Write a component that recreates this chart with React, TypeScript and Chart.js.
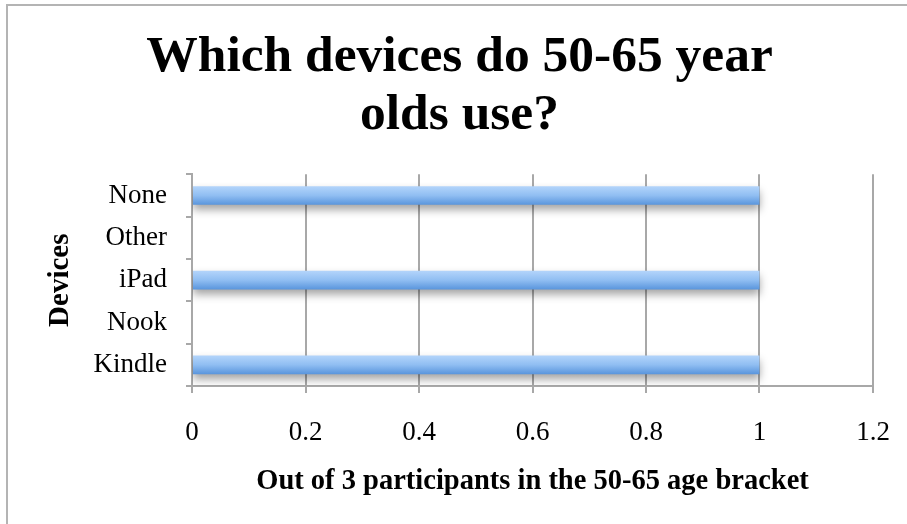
import React, { useEffect, useRef } from 'react';
import { Chart, registerables } from 'chart.js';

Chart.register(...registerables);

const categories = ['Kindle', 'Nook', 'iPad', 'Other', 'None'];
const values = [1, 0, 1, 0, 1];
const xTickLabels = ['0', '0.2', '0.4', '0.6', '0.8', '1', '1.2'];
const titleLines = ['Which devices do 50-65 year', 'olds use?'];
const xTitle = 'Out of 3 participants in the 50-65 age bracket';
const yTitle = 'Devices';

const FONT = "'Liberation Serif', 'Times New Roman', serif";
const GRID = '#a8a8a8';

export default function App() {
  const ref = useRef<HTMLCanvasElement | null>(null);

  useEffect(() => {
    if (!ref.current) return;
    const frame = {
      id: 'frame',
      beforeDraw(chart: any) {
        const ctx = chart.ctx;
        ctx.save();
        ctx.fillStyle = '#ffffff';
        ctx.fillRect(0, 0, chart.width, chart.height);
        ctx.strokeStyle = '#b4b4b4';
        ctx.lineWidth = 2;
        ctx.strokeRect(7, 5, chart.width + 20, chart.height + 20);
        ctx.restore();
      },
    };
    const shadow = {
      id: 'barShadow',
      beforeDatasetsDraw(chart: any) {
        const ctx = chart.ctx;
        ctx.save();
        ctx.shadowColor = 'rgba(0,0,0,0.36)';
        ctx.shadowBlur = 9;
        ctx.shadowOffsetY = 5;
      },
      afterDatasetsDraw(chart: any) {
        chart.ctx.restore();
      },
    };
    const chart = new Chart(ref.current, {
      type: 'bar',
      data: {
        labels: categories,
        datasets: [
          {
            data: values,
            backgroundColor: (c: any) => {
              const ch = c.chart;
              const ys = ch.scales && ch.scales.y;
              if (!ys || c.dataIndex === undefined) return '#86b6ee';
              const y = ys.getPixelForValue(c.dataIndex);
              if (!Number.isFinite(y)) return '#86b6ee';
              const h = 9.5;
              const g = ch.ctx.createLinearGradient(0, y - h, 0, y + h);
              g.addColorStop(0, '#b4d5fb');
              g.addColorStop(0.5, '#90bef2');
              g.addColorStop(1, '#5894dc');
              return g;
            },
            borderWidth: 0,
            barPercentage: 0.44,
            categoryPercentage: 1,
          },
        ],
      },
      options: {
        indexAxis: 'y',
        animation: false,
        responsive: true,
        maintainAspectRatio: false,
        layout: { padding: { left: 46, right: 34, top: 0, bottom: 0 } },
        plugins: {
          legend: { display: false },
          tooltip: { enabled: false },
          title: {
            display: true,
            text: titleLines,
            color: '#000',
            font: { family: FONT, size: 51.5, weight: 'bold', lineHeight: 1.12 },
            padding: { top: 29, bottom: 30 },
          },
        },
        scales: {
          x: {
            min: 0,
            max: 1.2,
            z: 1,
            afterFit: (s: any) => {
              s.height = 138;
              s.paddingLeft = 0;
              s.paddingRight = 0;
            },
            ticks: {
              stepSize: 0.2,
              color: '#000',
              font: { family: FONT, size: 27 },
              padding: 24,
              maxRotation: 0,
              callback: (_v: any, i: number) => xTickLabels[i],
            },
            grid: { color: GRID, lineWidth: 2, tickLength: 7 },
            border: { color: GRID, width: 2 },
            title: {
              display: true,
              text: xTitle,
              color: '#000',
              font: { family: FONT, size: 28.5, weight: 'bold', lineHeight: 1.2 },
              padding: { top: 25, bottom: 25 },
            },
          },
          y: {
            reverse: true,
            afterFit: (s: any) => {
              s.width = 146;
            },
            ticks: {
              color: '#000',
              font: { family: FONT, size: 27 },
              padding: 19,
            },
            grid: { drawOnChartArea: false, color: GRID, lineWidth: 2, tickLength: 6, offset: true },
            border: { color: GRID, width: 2 },
            title: {
              display: true,
              text: yTitle,
              color: '#000',
              font: { family: FONT, size: 29, weight: 'bold', lineHeight: 1.0 },
              padding: { top: 0, bottom: 0 },
            },
          },
        },
      },
      plugins: [frame, shadow],
    } as any);
    return () => chart.destroy();
  }, []);

  return (
    <div style={{ position: 'fixed', left: 0, top: 0, width: 907, height: 524, background: '#fff' }}>
      <canvas ref={ref} />
    </div>
  );
}
